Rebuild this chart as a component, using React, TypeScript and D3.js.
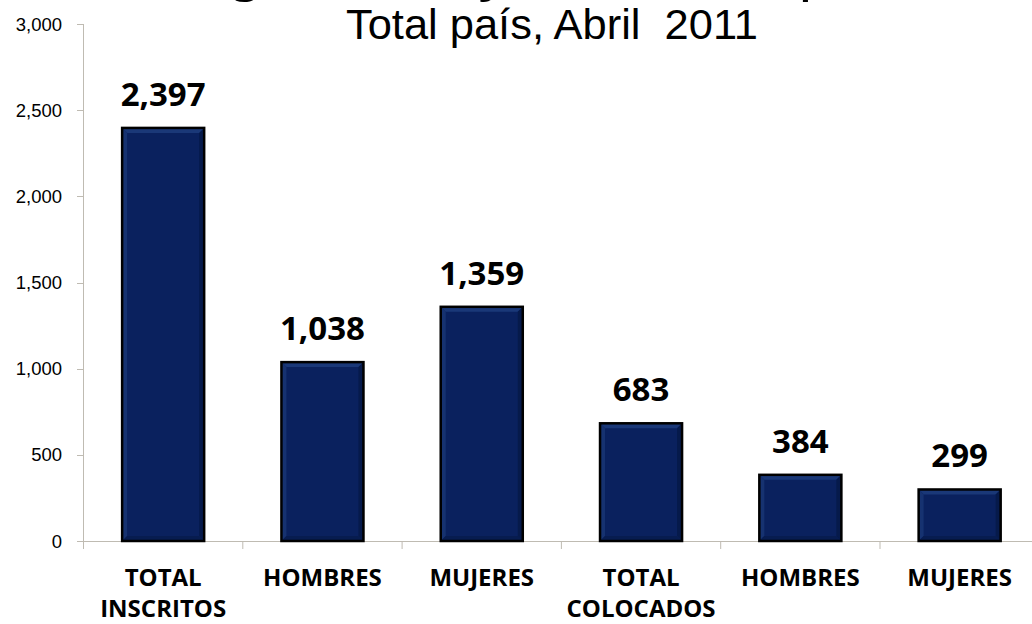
import React from "react";
import * as d3 from "d3";

const categoryIds = ["ti", "h1", "m1", "tc", "h2", "m2"];
const categoryLabels = [
  ["TOTAL", "INSCRITOS"],
  ["HOMBRES"],
  ["MUJERES"],
  ["TOTAL", "COLOCADOS"],
  ["HOMBRES"],
  ["MUJERES"],
];
const values = [2397, 1038, 1359, 683, 384, 299];
const yTicks = [0, 500, 1000, 1500, 2000, 2500, 3000];
const titleLine1 = "Registrados y colocados por sexo";
const titleLine2 = "Total país, Abril  2011";

const W = 1032;
const H = 624;

export default function App() {
  const y = d3.scaleLinear().domain([0, 3000]).range([541, 24]);
  const x = d3
    .scaleBand<string>()
    .domain(categoryIds)
    .range([83.5, 83.5 + 6 * 159.3])
    .paddingInner(0.485)
    .paddingOuter(0.2425);
  const fmt = d3.format(",");
  const axisColor = "#bfbbb2";
  const step = x.step();
  const left = 83.5;
  const b = 5;

  return (
    <svg
      width={W}
      height={H}
      style={{ position: "absolute", left: 0, top: 0, background: "#fff" }}
    >
      {/* title */}
      <text
        x={155}
        y={-6}
        fontFamily="'Liberation Sans', Arial, sans-serif"
        fontSize={40}
        textLength={865}
        lengthAdjust="spacingAndGlyphs"
        fill="#000"
      >
        {titleLine1}
      </text>
      <text
        x={346}
        y={39}
        fontFamily="'Liberation Sans', Arial, sans-serif"
        fontSize={42}
        textLength={412}
        lengthAdjust="spacingAndGlyphs"
        style={{ whiteSpace: "pre" }}
        fill="#000"
      >
        {titleLine2}
      </text>

      {/* y axis */}
      <line x1={left} x2={left} y1={y(3000)} y2={y(0)} stroke={axisColor} strokeWidth={1} />
      {yTicks.map((t) => (
        <g key={t}>
          <line x1={77} x2={left} y1={Math.round(y(t)) + 0.5} y2={Math.round(y(t)) + 0.5} stroke={axisColor} />
          <text
            x={62}
            y={y(t) + 6.5}
            textAnchor="end"
            fontFamily="'Liberation Sans', Arial, sans-serif"
            fontSize={18.5}
            fill="#000"
          >
            {fmt(t)}
          </text>
        </g>
      ))}

      {/* x axis */}
      <line x1={77} x2={W} y1={541.5} y2={541.5} stroke={axisColor} strokeWidth={1} />
      {categoryIds.map((id, i) => {
        const bx = left + i * step;
        return (
          <line key={id} x1={bx} x2={bx} y1={541} y2={549} stroke={axisColor} />
        );
      })}

      {/* bars */}
      {categoryIds.map((id, i) => {
        const x0 = x(id) as number;
        const x1 = x0 + x.bandwidth();
        const y0 = y(values[i]);
        const y1 = y(0);
        const cx = x0 + x.bandwidth() / 2;
        return (
          <g key={id}>
            <rect x={x0} y={y0} width={x1 - x0} height={y1 - y0} fill="#0a215e" />
            <polygon
              points={`${x0},${y0} ${x1},${y0} ${x1 - b},${y0 + b} ${x0 + b},${y0 + b}`}
              fill="#1a3878"
            />
            <polygon
              points={`${x0},${y0} ${x0 + b},${y0 + b} ${x0 + b},${y1 - b} ${x0},${y1}`}
              fill="#163270"
            />
            <polygon
              points={`${x1},${y0} ${x1},${y1} ${x1 - b},${y1 - b} ${x1 - b},${y0 + b}`}
              fill="#061a4b"
            />
            <polygon
              points={`${x0},${y1} ${x1},${y1} ${x1 - b},${y1 - b} ${x0 + b},${y1 - b}`}
              fill="#071c50"
            />
            <rect
              x={x0}
              y={y0}
              width={x1 - x0}
              height={y1 - y0}
              fill="none"
              stroke="#000"
              strokeWidth={2.5}
            />
            <text
              x={cx}
              y={y0 - 22}
              textAnchor="middle"
              fontFamily="'Open Sans', sans-serif"
              fontWeight={700}
              fontSize={33}
              fill="#000"
            >
              {fmt(values[i])}
            </text>
            {categoryLabels[i].map((ln, j) => (
              <text
                key={j}
                x={left + i * step + step / 2}
                y={586 + j * 31}
                textAnchor="middle"
                fontFamily="'Open Sans', sans-serif"
                fontWeight={700}
                fontSize={24}
                fill="#000"
              >
                {ln}
              </text>
            ))}
          </g>
        );
      })}
    </svg>
  );
}
